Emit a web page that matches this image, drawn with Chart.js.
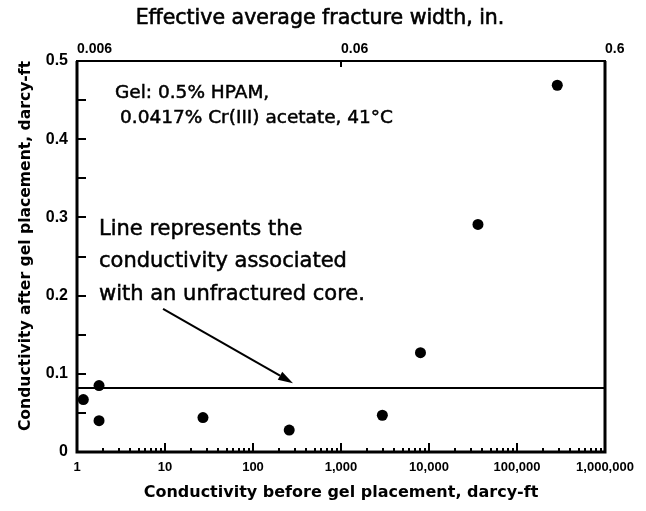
<!DOCTYPE html>
<html>
<head>
<meta charset="utf-8">
<script src="https://cdn.jsdelivr.net/npm/chart.js@4.4.0/dist/chart.umd.min.js"></script>
<style>
  html, body { margin: 0; padding: 0; background: #fff; }
  canvas { display: block; }
</style>
</head>
<body>
<canvas id="chart" width="646" height="511"></canvas>
<script>
// conductivity before / after gel placement, darcy-ft
const condBefore = [1.18, 1.78, 1.78, 27, 258, 2950, 8000, 36000, 287000];
const condAfter  = [0.067, 0.085, 0.040, 0.044, 0.028, 0.047, 0.127, 0.291, 0.469];
const unfracturedLevel = 0.082;

const xDecades = [1, 10, 100, 1000, 10000, 100000, 1000000];
const xDecadeLabels = ['1', '10', '100', '1,000', '10,000', '100,000', '1,000,000'];
const widthTickValues = [1, 1000, 1000000];
const widthTickLabels = ['0.006', '0.06', '0.6'];
const yTickValues = [0, 0.05, 0.1, 0.15, 0.2, 0.25, 0.3, 0.35, 0.4, 0.45, 0.5];
const yTickLabels = ['0', '', '0.1', '', '0.2', '', '0.3', '', '0.4', '', '0.5'];

// arrow from the note to the line (data coords)
const arrowFrom = { x: 9.5, y: 0.183 };
const arrowTo = { x: 285, y: 0.088 };

const topTitle = 'Effective average fracture width, in.';
const yTitle = 'Conductivity after gel placement, darcy-ft';

const notes = [
  { text: 'Gel: 0.5% HPAM,', x: 115, y: 98, size: 18.5 },
  { text: '0.0417% Cr(III) acetate, 41°C', x: 120, y: 123, size: 18.5 },
  { text: 'Line represents the', x: 99, y: 235, size: 21 },
  { text: 'conductivity associated', x: 99, y: 267, size: 21 },
  { text: 'with an unfractured core.', x: 99, y: 300, size: 21 },
];

// minor ticks 2..9 inside each decade
const xTickValues = [];
xDecades.forEach((d, i) => {
  xTickValues.push(d);
  if (i < xDecades.length - 1) for (let k = 2; k <= 9; k++) xTickValues.push(d * k);
});

const tickFont = { family: 'Liberation Sans, Arial', weight: 'bold' };

function heavyText(ctx, text, x, y, w) {
  ctx.fillText(text, x, y);
  ctx.lineWidth = w;
  ctx.strokeText(text, x, y);
}

const frameAndTicks = {
  id: 'frameAndTicks',
  afterDatasetsDraw(chart) {
    const { ctx, chartArea: a, scales: { x, y, x2 } } = chart;
    ctx.save();
    ctx.strokeStyle = '#000';
    ctx.fillStyle = '#000';

    // inward tick marks
    ctx.lineWidth = 2;
    ctx.beginPath();
    x.ticks.forEach(t => {
      const px = Math.round(x.getPixelForValue(t.value));
      const len = xDecades.includes(t.value) ? 9 : 4;
      ctx.moveTo(px, a.bottom);
      ctx.lineTo(px, a.bottom - len);
    });
    y.ticks.forEach(t => {
      const py = Math.round(y.getPixelForValue(t.value));
      ctx.moveTo(a.left, py);
      ctx.lineTo(a.left + 9, py);
    });
    const mid = Math.round(x2.getPixelForValue(widthTickValues[1]));
    ctx.moveTo(mid, a.top);
    ctx.lineTo(mid, a.top + 6);
    ctx.stroke();

    // frame
    ctx.lineWidth = 3;
    ctx.beginPath();
    ctx.moveTo(a.left, a.top);
    ctx.lineTo(a.left, a.bottom);
    ctx.lineTo(a.right, a.bottom);
    ctx.lineTo(a.right, a.top);
    ctx.stroke();
    ctx.lineWidth = 2;
    ctx.beginPath();
    ctx.moveTo(a.left - 1, a.top);
    ctx.lineTo(a.right + 1, a.top);
    ctx.stroke();

    // arrow
    const x0 = x.getPixelForValue(arrowFrom.x), y0 = y.getPixelForValue(arrowFrom.y);
    const x1 = x.getPixelForValue(arrowTo.x), y1 = y.getPixelForValue(arrowTo.y);
    const ang = Math.atan2(y1 - y0, x1 - x0);
    const head = 15, half = 4.5;
    ctx.lineWidth = 2;
    ctx.beginPath();
    ctx.moveTo(x0, y0);
    ctx.lineTo(x1 - Math.cos(ang) * head, y1 - Math.sin(ang) * head);
    ctx.stroke();
    ctx.beginPath();
    ctx.moveTo(x1, y1);
    ctx.lineTo(x1 - Math.cos(ang) * head - Math.sin(ang) * half, y1 - Math.sin(ang) * head + Math.cos(ang) * half);
    ctx.lineTo(x1 - Math.cos(ang) * head + Math.sin(ang) * half, y1 - Math.sin(ang) * head - Math.cos(ang) * half);
    ctx.closePath();
    ctx.fill();

    // notes
    ctx.textBaseline = 'alphabetic';
    ctx.textAlign = 'left';
    notes.forEach(n => {
      ctx.font = n.size + 'px "DejaVu Sans"';
      heavyText(ctx, n.text, n.x, n.y, 0.5);
    });

    // top title (centred on the page, not on the plot)
    ctx.textAlign = 'center';
    ctx.textBaseline = 'middle';
    ctx.font = '20.5px "DejaVu Sans"';
    heavyText(ctx, topTitle, 320, 19, 0.6);

    // y title
    ctx.save();
    ctx.translate(26, 246);
    ctx.rotate(-Math.PI / 2);
    ctx.font = 'bold 15.6px "DejaVu Sans"';
    ctx.fillText(yTitle, 0, 0);
    ctx.restore();

    ctx.restore();
  }
};

new Chart(document.getElementById('chart'), {
  type: 'scatter',
  data: {
    datasets: [
      {
        label: 'Gel placement',
        data: condBefore.map((v, i) => ({ x: v, y: condAfter[i] })),
        backgroundColor: '#000',
        borderColor: '#000',
        pointRadius: 5.5,
        pointBorderWidth: 0,
      },
      {
        label: 'Unfractured core',
        type: 'line',
        data: [{ x: xDecades[0], y: unfracturedLevel }, { x: xDecades[xDecades.length - 1], y: unfracturedLevel }],
        borderColor: '#000',
        borderWidth: 2,
        pointRadius: 0,
        fill: false,
      },
    ],
  },
  options: {
    animation: false,
    responsive: false,
    layout: { padding: { left: 0, right: 41, top: 0, bottom: 0 } },
    plugins: {
      legend: { display: false },
      tooltip: { enabled: false },
    },
    scales: {
      x: {
        type: 'logarithmic',
        position: 'bottom',
        min: 1,
        max: 1000000,
        afterBuildTicks: s => { s.ticks = xTickValues.map(v => ({ value: v })); },
        afterFit: s => { s.height = 59; },
        grid: { display: false, drawTicks: false },
        border: { display: false },
        ticks: {
          autoSkip: false,
          maxRotation: 0,
          padding: 8,
          color: '#000',
          font: { ...tickFont, size: 13 },
          callback: v => {
            const i = xDecades.indexOf(v);
            return i >= 0 ? xDecadeLabels[i] : '';
          },
        },
        title: {
          display: true,
          text: 'Conductivity before gel placement, darcy-ft',
          color: '#000',
          font: { family: 'DejaVu Sans', weight: 'bold', size: 16 },
          padding: { top: 0, bottom: 9 },
        },
      },
      x2: {
        type: 'logarithmic',
        position: 'top',
        min: 1,
        max: 1000000,
        afterBuildTicks: s => { s.ticks = widthTickValues.map(v => ({ value: v })); },
        afterFit: s => { s.height = 61; },
        grid: { display: false, drawTicks: false },
        border: { display: false },
        ticks: {
          autoSkip: false,
          maxRotation: 0,
          align: 'start',
          padding: 3,
          color: '#000',
          font: { ...tickFont, size: 14 },
          callback: v => {
            const i = widthTickValues.indexOf(v);
            return i >= 0 ? widthTickLabels[i] : '';
          },
        },
        title: { display: false },
      },
      y: {
        type: 'linear',
        position: 'left',
        min: 0,
        max: 0.5,
        afterBuildTicks: s => { s.ticks = yTickValues.map(v => ({ value: v })); },
        afterFit: s => { s.width = 77; },
        grid: { display: false, drawTicks: false },
        border: { display: false },
        ticks: {
          autoSkip: false,
          padding: 9,
          color: '#000',
          font: { ...tickFont, size: 16 },
          callback: (v, i) => yTickLabels[i],
        },
        title: { display: false },
      },
    },
  },
  plugins: [frameAndTicks],
});
</script>
</body>
</html>
